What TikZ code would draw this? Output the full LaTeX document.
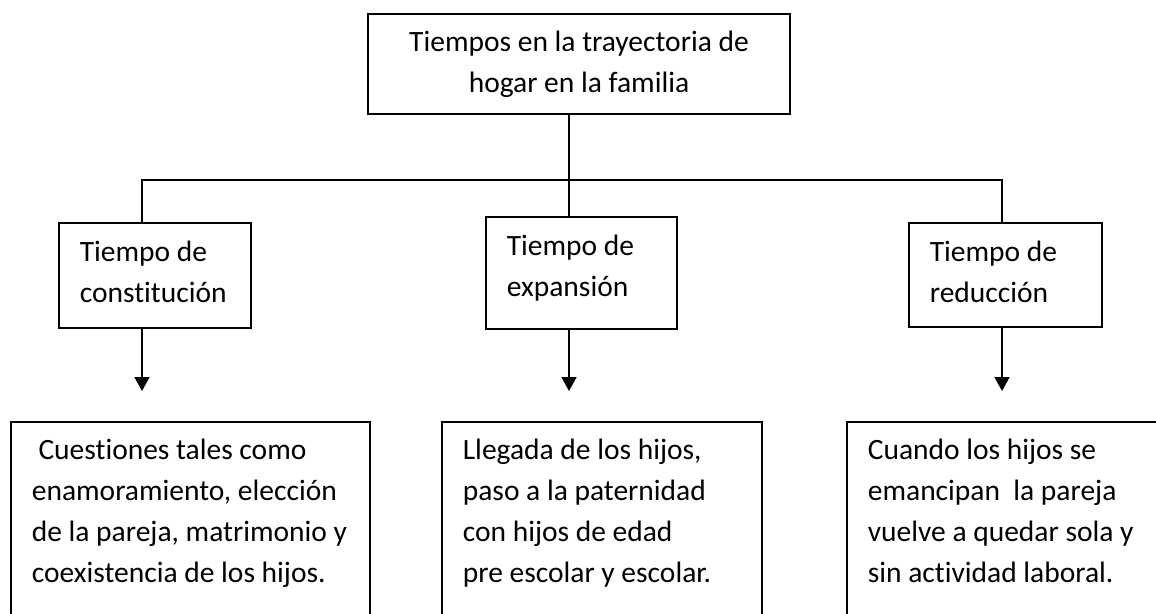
\documentclass[tikz,border=0pt]{standalone}
\usepackage{fontspec}
\setmainfont[Ligatures=NoCommon]{Carlito}
\usetikzlibrary{arrows.meta}

\begin{document}
\begin{tikzpicture}[x=1pt, y=-1pt, line width=1.7pt,
    every node/.style={font=\fontsize{29.5}{41}\selectfont},
    etapa/.style={draw, anchor=north west, align=flush left, text width=#1,
        inner xsep=21pt, inner ysep=21pt, text height=18pt, text depth=45pt},
    cuadro/.style={draw, anchor=north west, align=flush left, text width=#1,
        inner xsep=21pt, inner ysep=22pt, text height=16pt, text depth=240pt},
    flecha/.style={-{Triangle[length=14pt,width=15pt]}, shorten >=30pt}]
    \useasboundingbox (0,0) rectangle (1156,613);

    % Caja principal
    \node[draw, minimum width=422pt, minimum height=100pt, align=center] (t0) at (579,64)
        {Tiempos en la trayectoria de\\hogar en la familia};

    % Tiempos
    \node[etapa=150pt] (e1) at (58,222) {Tiempo de\\constitución};
    \node[etapa=149pt, text depth=52pt] (e2) at (485,216) {Tiempo de\\expansión};
    \node[etapa=151pt, text depth=44pt] (e3) at (908,222) {Tiempo de\\reducción};

    % Contenidos
    \node[cuadro=317pt] (c1) at (10,421)
        {\ Cuestiones tales como\\enamoramiento, elección\\\mbox{de la pareja, matrimonio y}\\coexistencia de los hijos.};
    \node[cuadro=278pt] (c2) at (441,421)
        {Llegada de los hijos,\\paso a la paternidad\\con hijos de edad\\pre escolar y escolar.};
    \node[cuadro=298pt] (c3) at (846,421)
        {Cuando los hijos se\\emancipan\ \ la pareja\\vuelve a quedar sola y\\sin actividad laboral.};

    % Las uniones
    \coordinate (j1) at (142,180);
    \coordinate (j2) at (569,180);
    \coordinate (j3) at (1002,180);
    \draw (t0.south -| j2) -- (j2);
    \draw (e1.north -| j1) -- (j1) -- (j3) -- (e3.north -| j3);
    \draw (j2) -- (e2.north -| j2);

    % Las flechas
    \draw[flecha] (e1.south -| j1) -- (c1.north -| j1);
    \draw[flecha] (e2.south -| j2) -- (c2.north -| j2);
    \draw[flecha] (e3.south -| j3) -- (c3.north -| j3);
\end{tikzpicture}
\end{document}
